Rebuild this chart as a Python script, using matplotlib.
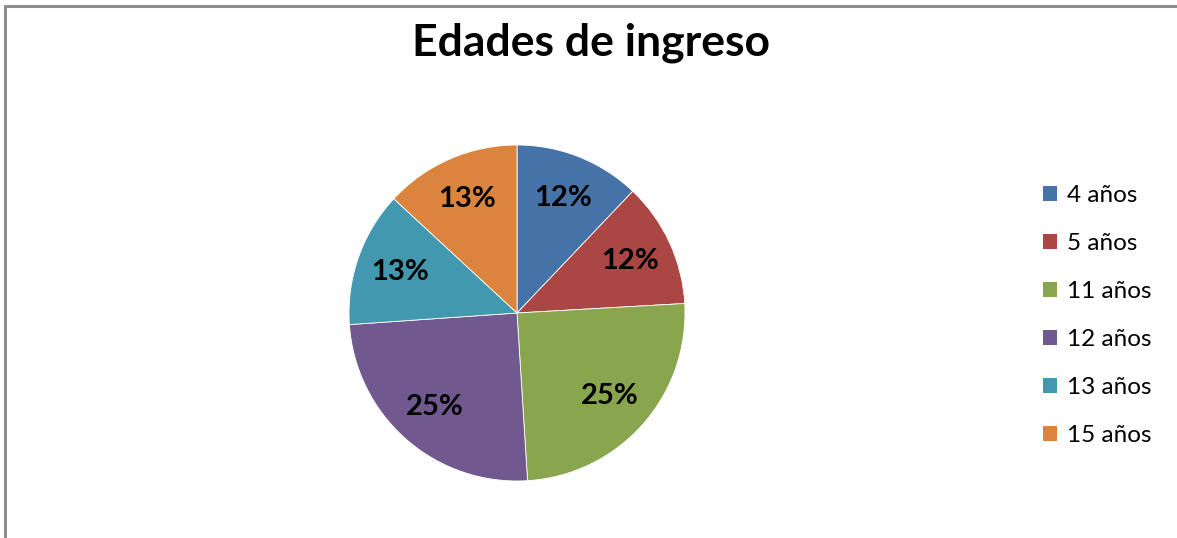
import matplotlib.pyplot as plt
from matplotlib.lines import Line2D

# datos del gráfico
categorias = ['4 años', '5 años', '11 años', '12 años', '13 años', '15 años']
porcentajes = [12.1, 12.0, 24.9, 24.9, 13.0, 13.1]
colores = ['#4572A7', '#AA4643', '#89A54E', '#71588F', '#4198AF', '#DB843D']

plt.rcParams['font.family'] = ['Lato', 'DejaVu Sans']

W, H = 1177, 538
fig = plt.figure(figsize=(W / 100, H / 100), dpi=100)
fig.patch.set_facecolor('white')

# marco gris del área del gráfico
fig.add_artist(Line2D([5 / W, 5 / W], [0, 1 - 5 / H], transform=fig.transFigure,
                      color='#8c8c8c', lw=2.2, solid_capstyle='butt'))
fig.add_artist(Line2D([4 / W, 1], [1 - 6 / H, 1 - 6 / H], transform=fig.transFigure,
                      color='#8c8c8c', lw=2.2, solid_capstyle='butt'))

# eje del pastel: centro (517, 313), radio 168 px
cx, cy, r = 517, 313, 168
ax = fig.add_axes([(cx - r) / W, (H - cy - r) / H, 2 * r / W, 2 * r / H])
wedges, textos, autotextos = ax.pie(
    porcentajes, colors=colores, startangle=90, counterclock=False,
    autopct='%.0f%%', pctdistance=0.74,
    wedgeprops=dict(edgecolor='white', linewidth=0.6),
    textprops=dict(fontsize=21, fontweight='bold', color='black'))
ax.set_xlim(-1, 1)
ax.set_ylim(-1, 1)
ax.set_aspect('equal')

fig.text(591 / W, 1 - 43 / H, 'Edades de ingreso', ha='center', va='center',
         fontsize=32, fontweight='bold')

leg = fig.legend(wedges, categorias, loc='upper left',
                 bbox_to_anchor=(1031 / W, 1 - 173 / H), frameon=False,
                 fontsize=17.5, handlelength=0.55, handleheight=0.55,
                 handletextpad=0.45, labelspacing=1.11, borderpad=0)
for h in leg.legend_handles:
    h.set_edgecolor('none')

fig.savefig('out.png', dpi=100)
